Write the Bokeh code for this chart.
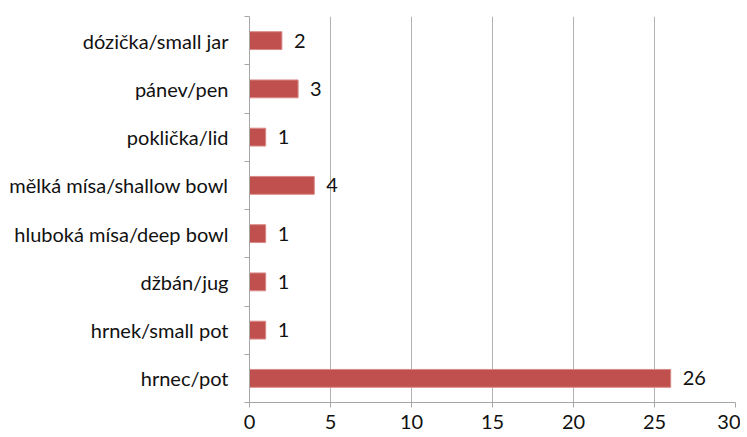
from bokeh.plotting import figure
from bokeh.models import FixedTicker, Range1d, ColumnDataSource
from bokeh.core.properties import value
from bokeh.embed import file_html
from bokeh.resources import INLINE

categories = ["hrnec/pot", "hrnek/small pot", "džbán/jug", "hluboká mísa/deep bowl",
              "mělká mísa/shallow bowl", "poklička/lid", "pánev/pen", "dózička/small jar"]
counts = [26, 1, 1, 1, 4, 1, 3, 2]
x_ticks = [0, 5, 10, 15, 20, 25, 30]

FONT = "Lato"
FS = "20px"
pos = [i + 0.5 for i in range(len(categories))]
src = ColumnDataSource(dict(y=pos, v=counts, lbl=[str(c) for c in counts]))

p = figure(width=740, height=435, output_backend="svg", toolbar_location=None,
           x_range=Range1d(0, 30), y_range=Range1d(0, len(categories)),
           min_border_left=249, min_border_right=5, min_border_top=16, min_border_bottom=33)
p.outline_line_color = None
p.background_fill_color = "white"

p.hbar(y="y", right="v", left=0, height=0.37, source=src,
       fill_color="#c0504d", line_color="#d98a88", line_width=1)
p.text(x="v", y="y", text="lbl", source=src, x_offset=12, text_baseline="middle",
       text_align="left", text_font=value(FONT), text_font_size=FS, text_color="#111111")

p.xaxis.ticker = FixedTicker(ticks=x_ticks)
p.xaxis.axis_line_color = "#a6a6a6"
p.xaxis.major_tick_line_color = "#a6a6a6"
p.xaxis.major_tick_out = 5
p.xaxis.major_tick_in = 0
p.xaxis.minor_tick_line_color = None
p.xaxis.major_label_text_font = FONT
p.xaxis.major_label_text_font_size = FS
p.xaxis.major_label_text_color = "#111111"
p.xaxis.major_label_standoff = 7

p.yaxis.ticker = FixedTicker(ticks=pos, minor_ticks=list(range(len(categories) + 1)))
p.yaxis.major_label_overrides = {pp: c for pp, c in zip(pos, categories)}
p.yaxis.axis_line_color = "#a6a6a6"
p.yaxis.major_tick_line_color = None
p.yaxis.minor_tick_line_color = "#a6a6a6"
p.yaxis.minor_tick_out = 5
p.yaxis.minor_tick_in = 0
p.yaxis.major_label_text_font = FONT
p.yaxis.major_label_text_font_size = FS
p.yaxis.major_label_text_color = "#111111"
p.yaxis.major_label_standoff = 15

p.xgrid.ticker = FixedTicker(ticks=x_ticks[1:])
p.xgrid.grid_line_color = "#b3b3b3"
p.xgrid.grid_line_width = 1
p.ygrid.grid_line_color = None

open("out.html", "w").write(file_html(p, INLINE))
